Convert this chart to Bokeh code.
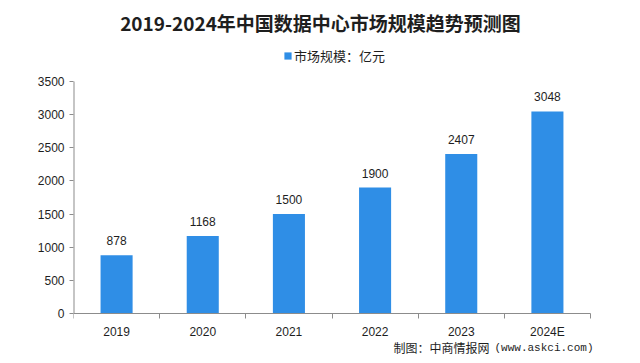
from bokeh.plotting import figure
from bokeh.models import (Range1d, FixedTicker, Label, Legend, LegendItem,
                          ColumnDataSource, LabelSet)
from bokeh.core.properties import value
from bokeh.embed import file_html
from bokeh.resources import INLINE

categories = ["2019", "2020", "2021", "2022", "2023", "2024E"]
values = [878, 1168, 1500, 1900, 2407, 3048]
y_ticks = [0, 500, 1000, 1500, 2000, 2500, 3000, 3500]
title_text = "2019-2024年中国数据中心市场规模趋势预测图"
series_name = "市场规模：亿元"
source_note = "制图：中商情报网"
source_url = "(www.askci.com)"

bar_color = "#2f8ee6"
axis_color = "#8c8c8c"
text_color = "#1e1e1e"
n = len(categories)
y_max = y_ticks[-1]
x_pos = [i + 0.5 for i in range(n)]

# layout (pixels in figure)
FIG_W, FIG_H = 632, 355
FRAME_L, FRAME_R = 73, 628
AXIS_R = 590
ZERO_PX, TOP_PX = 313, 81
upp = y_max / (ZERO_PX - TOP_PX)          # y data units per pixel
xpp = n / (AXIS_R - FRAME_L)              # x data units per pixel
y_start = -(FIG_H - ZERO_PX) * upp
y_end = y_max + TOP_PX * upp
x_end = (FRAME_R - FRAME_L) * xpp

src = ColumnDataSource(dict(x=x_pos, top=values, lab=[str(v) for v in values]))

p = figure(width=FIG_W, height=FIG_H, output_backend="svg", toolbar_location=None,
           x_range=Range1d(0, x_end), y_range=Range1d(y_start, y_end),
           min_border_left=FRAME_L, min_border_right=FIG_W - FRAME_R,
           min_border_top=0, min_border_bottom=0)
p.outline_line_color = None
p.background_fill_color = "white"
p.border_fill_color = "white"
p.xgrid.visible = False
p.ygrid.visible = False

r = p.vbar(x="x", top="top", width=0.372, bottom=0, source=src,
           fill_color=bar_color, line_color=None)

p.add_layout(LabelSet(x="x", y="top", text="lab", source=src, y_offset=10,
                      text_align="center", text_baseline="alphabetic",
                      text_font=value("Liberation Sans"), text_font_size="12px",
                      text_color=text_color))

# axis lines limited to the data extent
p.segment(x0=[0], y0=[0], x1=[0], y1=[y_max], line_color=axis_color, line_width=2)
p.segment(x0=[0], y0=[0], x1=[n], y1=[0], line_color=axis_color, line_width=1)

# axes
xa = p.xaxis[0]
xa.fixed_location = 0
xa.ticker = FixedTicker(ticks=x_pos, minor_ticks=list(range(n + 1)))
xa.major_label_overrides = {x: c for x, c in zip(x_pos, categories)}
xa.major_tick_out = 0
xa.major_tick_in = 0
xa.minor_tick_out = 5
xa.minor_tick_in = 0
xa.minor_tick_line_color = axis_color
xa.axis_line_color = None
xa.major_label_standoff = 6
xa.major_label_text_font = "Liberation Sans"
xa.major_label_text_font_size = "12px"
xa.major_label_text_color = text_color

ya = p.yaxis[0]
ya.ticker = FixedTicker(ticks=y_ticks)
ya.minor_tick_line_color = None
ya.major_tick_out = 4
ya.major_tick_in = 0
ya.major_tick_line_color = axis_color
ya.axis_line_color = None
ya.major_label_standoff = 5
ya.major_label_text_font = "Liberation Sans"
ya.major_label_text_font_size = "12px"
ya.major_label_text_color = text_color

p.add_layout(Label(x=(320 - FRAME_L) * xpp, y=y_max + (TOP_PX - 22) * upp,
                   text=title_text, text_align="center", text_baseline="middle",
                   text_font="Noto Sans CJK SC", text_font_style="bold",
                   text_font_size="19px", text_color=text_color))

p.add_layout(Label(x=(393 - FRAME_L) * xpp, y=-(347 - ZERO_PX) * upp,
                   text=source_note, text_align="left", text_baseline="middle",
                   text_font="Noto Sans CJK SC", text_font_size="12px",
                   text_color=text_color))
p.add_layout(Label(x=(593 - FRAME_L) * xpp, y=-(347 - ZERO_PX) * upp,
                   text=source_url, text_align="right", text_baseline="middle",
                   text_font="Liberation Mono", text_font_size="11px",
                   text_color=text_color))

legend = Legend(items=[LegendItem(label=series_name, renderers=[r])],
                location=(283 - FRAME_L, FIG_H - 65), orientation="horizontal",
                glyph_width=9, glyph_height=9, label_height=14,
                label_standoff=2, padding=0, margin=0, spacing=0,
                border_line_color=None, background_fill_alpha=0,
                label_text_font="Noto Sans CJK SC", label_text_font_size="13px",
                label_text_color=text_color)
p.add_layout(legend)

open("out.html", "w").write(file_html(p, INLINE))
